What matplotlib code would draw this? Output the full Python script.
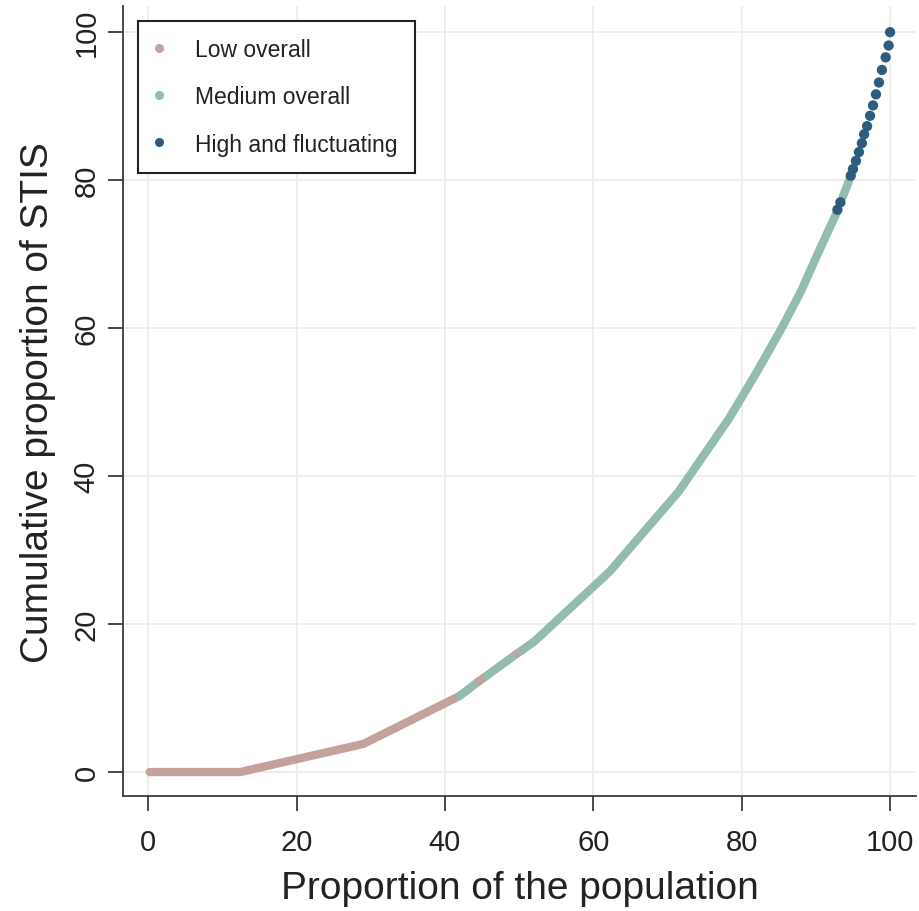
"""Lorenz-type curve of STIs by trajectory group."""

import matplotlib
matplotlib.use('Agg')
import matplotlib.pyplot as plt
from matplotlib.lines import Line2D

plt.rcParams['font.family'] = ['Liberation Sans', 'DejaVu Sans']

# Data (percent of population, cumulative percent of STIs)
groups = ['Low overall', 'Medium overall', 'High and fluctuating']
colors = {'Low overall': '#c4a19b',
          'Medium overall': '#93bbaf',
          'High and fluctuating': '#2f5b7c'}

# dense parts of the curve, drawn as thick runs (group, x, y)
low_x1 = [0.2, 12.4, 29.0, 42.0]
low_y1 = [0.0, 0.0, 3.8, 10.3]
med_x1 = [42.0, 44.6]
med_y1 = [10.3, 12.3]
low_x2 = [44.6, 45.6]
low_y2 = [12.3, 13.0]
med_x2 = [45.6, 49.7]
med_y2 = [13.0, 16.0]
low_x3 = [49.7, 50.3]
low_y3 = [16.0, 16.4]
med_x3 = [50.3, 52.1, 62.2, 71.5, 78.3, 82.0, 85.5, 88.0, 90.0, 92.8]
med_y3 = [16.4, 17.7, 27.1, 37.9, 47.8, 54.0, 60.2, 65.0, 69.5, 75.6]
med_x4 = [93.6, 94.5]
med_y4 = [77.7, 80.0]

runs = [('Low overall', low_x1, low_y1),
        ('Medium overall', med_x1, med_y1),
        ('Low overall', low_x2, low_y2),
        ('Medium overall', med_x2, med_y2),
        ('Low overall', low_x3, low_y3),
        ('Medium overall', med_x3, med_y3),
        ('Medium overall', med_x4, med_y4)]

# sparse individuals in the high group
high_x = [92.9, 93.3, 94.7, 95.0, 95.4, 95.8, 96.2, 96.5, 96.9, 97.3,
          97.7, 98.1, 98.5, 98.9, 99.4, 99.8, 100.0]
high_y = [76.0, 77.0, 80.6, 81.5, 82.6, 83.8, 85.0, 86.2, 87.3, 88.7,
          90.1, 91.6, 93.2, 94.9, 96.6, 98.2, 100.0]

xticks = [0, 20, 40, 60, 80, 100]
yticks = [0, 20, 40, 60, 80, 100]

fig = plt.figure(figsize=(9.2, 9.12), dpi=100)
ax = fig.add_axes([0.1337, 0.126, 0.862, 0.866])

for grp, xs, ys in runs:
    ax.plot(xs, ys, color=colors[grp], linewidth=6.0,
            solid_capstyle='round', solid_joinstyle='round', zorder=3)

ax.scatter(high_x, high_y, s=55, color=colors['High and fluctuating'],
           edgecolors='none', zorder=4)

ax.set_xlim(-3.4, 103.5)
ax.set_ylim(-3.25, 103.5)
ax.set_xticks(xticks)
ax.set_yticks(yticks)
ax.set_xticklabels([str(t) for t in xticks])
ax.set_yticklabels([str(t) for t in yticks], rotation=90, va='center')

ax.grid(True, color='#ebebeb', linewidth=1.2)
ax.set_axisbelow(True)

for side in ['top', 'right']:
    ax.spines[side].set_visible(False)
for side in ['left', 'bottom']:
    ax.spines[side].set_color('#3a3a3a')
    ax.spines[side].set_linewidth(1.3)

ax.tick_params(axis='both', direction='out', length=11, width=1.3,
               color='#3a3a3a', labelsize=21, labelcolor='#222222')
ax.tick_params(axis='x', pad=12)
ax.tick_params(axis='y', pad=5)

ax.set_xlabel('Proportion of the population', fontsize=28,
              color='#222222', labelpad=10)
ax.set_ylabel('Cumulative proportion of STIS', fontsize=28,
              color='#222222', labelpad=12)

handles = [Line2D([], [], linestyle='none', marker='o', markersize=6.5,
                  markerfacecolor=colors[g], markeredgecolor='none', label=g)
           for g in groups]
leg = ax.legend(handles=handles, loc='upper left', fontsize=16.5,
                frameon=True, fancybox=False, framealpha=1,
                edgecolor='#222222', borderaxespad=0.65, borderpad=0.75,
                labelspacing=1.05, handlelength=0.3, handletextpad=1.45)
leg.get_frame().set_linewidth(1.5)
for t in leg.get_texts():
    t.set_color('#222222')

fig.savefig('out.png', dpi=100, facecolor='white')
